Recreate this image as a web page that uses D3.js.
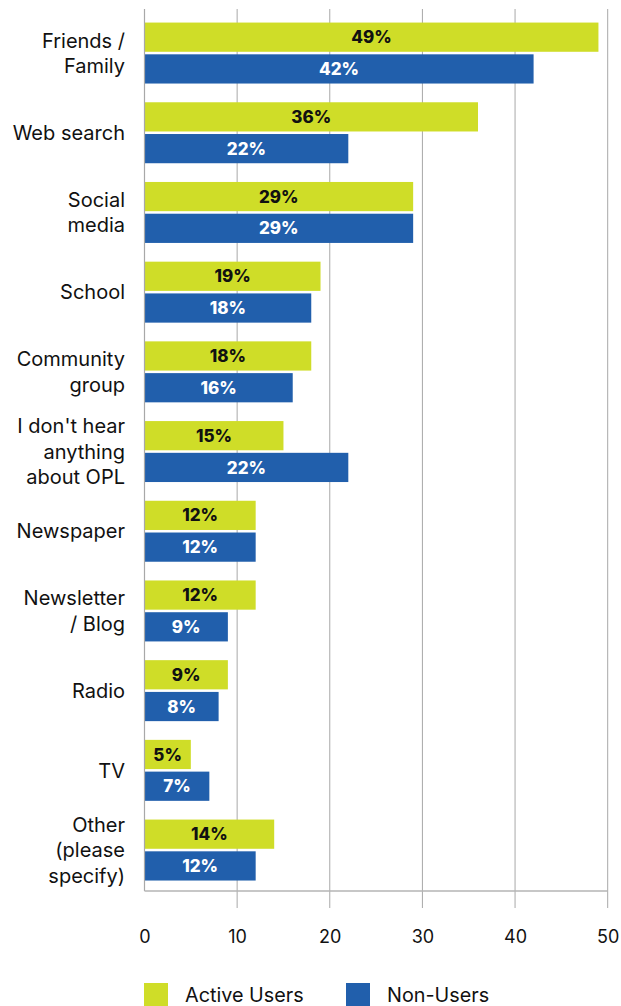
<!DOCTYPE html>
<html>
<head>
<meta charset="utf-8">
<script src="https://cdn.jsdelivr.net/npm/d3@7"></script>
<style>
  html, body { margin: 0; padding: 0; background: #fff; }
  svg { display: block; font-family: Inter, "Noto Sans", sans-serif; }
</style>
</head>
<body>
<svg id="chart" width="621" height="1006"></svg>
<script>
// Where respondents hear about OPL, by user group (percent)
const categories = [
  "Friends / Family", "Web search", "Social media", "School", "Community group",
  "I don't hear anything about OPL", "Newspaper", "Newsletter / Blog", "Radio", "TV",
  "Other (please specify)"
];
const categoryLines = [
  ["Friends /", "Family"], ["Web search"], ["Social", "media"], ["School"],
  ["Community", "group"], ["I don't hear", "anything", "about OPL"], ["Newspaper"],
  ["Newsletter", "/ Blog"], ["Radio"], ["TV"], ["Other", "(please", "specify)"]
];
const seriesNames = ["Active Users", "Non-Users"];
const activeUsers = [49, 36, 29, 19, 18, 15, 12, 12, 9, 5, 14];
const nonUsers    = [42, 22, 29, 18, 16, 22, 12, 9, 8, 7, 12];
const xTicks = [0, 10, 20, 30, 40, 50];

const colors = { "Active Users": "#cfdd28", "Non-Users": "#215fac" };
const labelColors = { "Active Users": "#111", "Non-Users": "#fff" };

const svg = d3.select("#chart");
const plotLeft = 144.5, plotRight = 607.7, plotTop = 9, plotBottom = 891;

const x = d3.scaleLinear().domain([0, 50]).range([plotLeft, plotRight]);
const y = d3.scaleBand().domain(categories).range([13.2, 889.9])
  .paddingInner(0.235).paddingOuter(0.1175);
const ySub = d3.scaleBand().domain(seriesNames).range([0, y.bandwidth()]).paddingInner(0.08);

const rows = categories.map((c, i) => ({
  category: c, lines: categoryLines[i],
  values: [
    { series: "Active Users", value: activeUsers[i] },
    { series: "Non-Users", value: nonUsers[i] }
  ]
}));

// vertical gridlines, extending below the baseline as tick marks
svg.append("g").selectAll("line").data(xTicks.slice(1)).join("line")
  .attr("x1", d => x(d)).attr("x2", d => x(d))
  .attr("y1", plotTop).attr("y2", plotBottom + 17)
  .attr("stroke", "#a8a8a8").attr("stroke-width", 1);

// bars
const groups = svg.append("g").selectAll("g").data(rows).join("g")
  .attr("transform", d => `translate(0,${y(d.category)})`);

groups.selectAll("rect").data(d => d.values).join("rect")
  .attr("x", x(0))
  .attr("y", d => ySub(d.series))
  .attr("width", d => x(d.value) - x(0))
  .attr("height", ySub.bandwidth())
  .attr("fill", d => colors[d.series]);

groups.selectAll("text.val").data(d => d.values).join("text")
  .attr("class", "val")
  .attr("x", d => (x(0) + x(d.value)) / 2)
  .attr("y", d => ySub(d.series) + ySub.bandwidth() / 2)
  .attr("dy", "0.36em")
  .attr("text-anchor", "middle")
  .attr("font-size", 17).attr("font-weight", 800)
  .attr("fill", d => labelColors[d.series])
  .text(d => d.value + "%");

// axis lines
svg.append("line").attr("x1", plotLeft).attr("x2", plotLeft).attr("y1", plotTop).attr("y2", plotBottom)
  .attr("stroke", "#a8a8a8").attr("stroke-width", 1.2);
svg.append("line").attr("x1", plotLeft).attr("x2", plotRight).attr("y1", plotBottom).attr("y2", plotBottom)
  .attr("stroke", "#b4b4b4").attr("stroke-width", 1.5);

// category labels
const catLabels = svg.append("g").selectAll("text").data(rows).join("text")
  .attr("text-anchor", "end")
  .attr("font-size", 20)
  .attr("fill", "#111");
catLabels.each(function(d) {
  const n = d.lines.length, lh = 25.5;
  const cy = y(d.category) + y.bandwidth() / 2;
  d3.select(this).selectAll("tspan").data(d.lines).join("tspan")
    .attr("x", 125)
    .attr("y", (t, j) => cy + (j - (n - 1) / 2) * lh)
    .attr("dy", "0.36em")
    .text(t => t);
});

// x tick labels
const xAxis = d3.axisBottom(x).tickValues(xTicks).tickSize(0).tickPadding(0);
const gx = svg.append("g").attr("transform", `translate(0,${plotBottom})`).call(xAxis);
gx.select(".domain").remove();
gx.selectAll("text").attr("font-size", 18).attr("fill", "#111")
  .attr("font-family", "Inter, 'Noto Sans', sans-serif")
  .attr("y", 46).attr("dy", "0.36em");

// legend
const legend = svg.append("g").selectAll("g").data(seriesNames).join("g")
  .attr("transform", (d, i) => `translate(${[144, 346][i]},983)`);
legend.append("rect").attr("width", 24).attr("height", 24).attr("fill", d => colors[d]);
legend.append("text").attr("x", 41).attr("y", 12).attr("dy", "0.36em")
  .attr("font-size", 19.8).attr("fill", "#111").text(d => d);
</script>
</body>
</html>
